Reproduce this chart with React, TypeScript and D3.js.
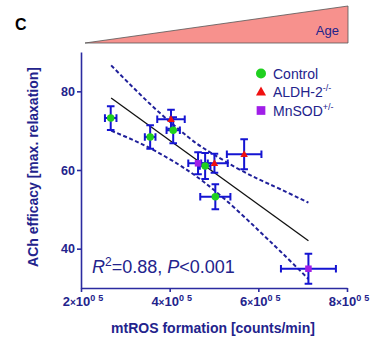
import React, { useRef, useEffect } from 'react'
import * as d3 from 'd3'

// group of each point
const groups = [
  'Control', 'Control', 'ALDH', 'Control', 'MnSOD',
  'Control', 'ALDH', 'ALDH', 'Control', 'MnSOD',
]
// mtROS formation [counts/min]
const mtros = [2.67e5, 3.56e5, 4.03e5, 4.08e5, 4.64e5, 4.8e5, 5.01e5, 5.68e5, 5.03e5, 7.13e5]
const mtrosErr = [0.13e5, 0.12e5, 0.31e5, 0.15e5, 0.22e5, 0.12e5, 0.3e5, 0.39e5, 0.34e5, 0.62e5]
// ACh efficacy [% max. relaxation]
const ach = [73.2, 68.4, 72.9, 70.1, 61.7, 61.0, 61.7, 64.0, 53.2, 34.9]
const achErr = [3.0, 3.0, 2.4, 3.3, 2.8, 3.3, 2.4, 3.8, 3.2, 3.8]

// regression line end points
const fitX = [2.68e5, 7.13e5]
const fitY = [78.3, 42.0]

// 95% confidence bands
const bandX = [2.68e5, 3.2e5, 3.7e5, 4.2e5, 4.6e5, 5.0e5, 5.5e5, 6.0e5, 6.5e5, 7.13e5]
const bandUpper = [86.6, 80.7, 75.3, 70.4, 66.8, 63.9, 60.6, 57.7, 55.1, 51.7]
const bandLower = [70.0, 67.5, 64.7, 61.4, 58.4, 54.9, 50.0, 44.7, 39.3, 32.3]

const xTicks = [2e5, 4e5, 6e5, 8e5]
const yTicks = [40, 60, 80]

const legendItems = [
  { key: 'Control', label: 'Control', sup: '' },
  { key: 'ALDH', label: 'ALDH-2', sup: '-/-' },
  { key: 'MnSOD', label: 'MnSOD', sup: '+/-' },
]

const colors: { [k: string]: string } = {
  Control: '#1fd01f',
  ALDH: '#f01010',
  MnSOD: '#a01ee8',
}

const FONT = 'Liberation Sans, Arial, sans-serif'
const NAVY = '#23238c'
const AXIS = '#2b2ba0'
const ERR = '#1414d2'

const App: React.FC = () => {
  const svgRef = useRef<SVGSVGElement>(null)

  useEffect(() => {
    if (!svgRef.current) return
    const svg = d3.select(svgRef.current)
    svg.selectAll('*').remove()

    const x = d3.scaleLinear().domain([2e5, 8e5]).range([81, 347])
    const y = d3.scaleLinear().domain([30, 90]).range([288, 52])

    // panel letter
    svg.append('text')
      .attr('x', 15).attr('y', 30)
      .style('font-family', FONT).style('font-size', '16px').style('font-weight', 'bold')
      .text('C')

    // age wedge
    const wx0 = x(2e5) + 4
    const wx1 = x(8e5) + 1
    svg.append('polygon')
      .attr('points', `${wx0},43 ${wx1},6 ${wx1},43`)
      .attr('fill', '#f7918d')
      .attr('stroke', '#555')
      .attr('stroke-width', 0.8)
    svg.append('text')
      .attr('x', wx1 - 9).attr('y', 35)
      .attr('text-anchor', 'end')
      .style('font-family', FONT).style('font-size', '13px').style('fill', NAVY)
      .text('Age')

    // axes
    const xAxis = svg.append('g').attr('transform', `translate(0, ${y(30)})`)
      .call(d3.axisBottom(x).tickValues(xTicks).tickSize(4).tickSizeOuter(0))
    const yAxis = svg.append('g').attr('transform', `translate(${x(2e5)}, 0)`)
      .call(d3.axisLeft(y).tickValues(yTicks).tickSize(4).tickSizeOuter(0).tickFormat(d3.format('d')))

    svg.selectAll('.domain').style('stroke', AXIS).style('stroke-width', 1.6)
    svg.selectAll('.tick line').style('stroke', AXIS).style('stroke-width', 1.6)

    yAxis.selectAll('text')
      .attr('x', -6)
      .style('font-family', FONT).style('font-size', '12.5px').style('font-weight', 'bold')
      .style('fill', NAVY)

    xAxis.selectAll<SVGTextElement, number>('text')
      .attr('y', 9)
      .attr('dx', 3)
      .style('font-family', FONT).style('font-size', '13px').style('font-weight', 'bold')
      .style('fill', NAVY)
      .each(function (d) {
        const t = d3.select(this)
        t.text('')
        t.append('tspan').text(`${d / 1e5}`)
        t.append('tspan').style('font-size', '10px').text('×')
        t.append('tspan').text('10')
        t.append('tspan').attr('dy', -5).style('font-size', '9px').style('letter-spacing', '3px').text('05')
      })

    // axis titles
    svg.append('text')
      .attr('x', 213).attr('y', 333)
      .attr('text-anchor', 'middle')
      .style('font-family', FONT).style('font-size', '14px').style('font-weight', 'bold')
      .style('fill', NAVY)
      .text('mtROS formation [counts/min]')
    svg.append('text')
      .attr('transform', `translate(38, 167) rotate(-90)`)
      .attr('text-anchor', 'middle')
      .style('font-family', FONT).style('font-size', '14px').style('font-weight', 'bold')
      .style('fill', NAVY)
      .text('ACh efficacy [max. relaxation]')

    // confidence bands
    const band = (vals: number[]) =>
      d3.line<number>()
        .x((_d, i) => x(bandX[i]))
        .y(d => y(d))
        .curve(d3.curveNatural)(vals)
    ;[bandUpper, bandLower].forEach(vals => {
      svg.append('path')
        .attr('d', band(vals) || '')
        .attr('fill', 'none')
        .attr('stroke', '#20209a')
        .attr('stroke-width', 2)
        .attr('stroke-dasharray', '4,2.5')
    })

    // regression line
    svg.append('line')
      .attr('x1', x(fitX[0])).attr('y1', y(fitY[0]))
      .attr('x2', x(fitX[1])).attr('y2', y(fitY[1]))
      .attr('stroke', '#111')
      .attr('stroke-width', 1.3)

    // error bars
    const cap = 3.8
    const eb = svg.append('g').attr('stroke', ERR).attr('stroke-width', 2).attr('fill', 'none')
    mtros.forEach((mx, i) => {
      const cx = x(mx)
      const cy = y(ach[i])
      const xl = x(mx - mtrosErr[i])
      const xr = x(mx + mtrosErr[i])
      const yt = y(ach[i] + achErr[i])
      const yb = y(ach[i] - achErr[i])
      eb.append('path').attr('d',
        `M${xl},${cy}H${xr}M${xl},${cy - cap}V${cy + cap}M${xr},${cy - cap}V${cy + cap}` +
        `M${cx},${yt}V${yb}M${cx - cap},${yt}H${cx + cap}M${cx - cap},${yb}H${cx + cap}`)
    })

    // markers
    const marker = (g: d3.Selection<SVGGElement, unknown, null, undefined>, key: string, s: number) => {
      if (key === 'Control') {
        g.append('circle').attr('r', s / 2).attr('fill', colors[key])
      } else if (key === 'ALDH') {
        const h = s * 0.9
        g.append('path').attr('d', `M0,${-h * 0.6}L${s / 2},${h * 0.4}L${-s / 2},${h * 0.4}Z`).attr('fill', colors[key])
      } else {
        g.append('rect').attr('x', -s / 2.3).attr('y', -s / 2.3).attr('width', s / 1.15).attr('height', s / 1.15).attr('fill', colors[key])
      }
    }
    mtros.forEach((mx, i) => {
      const g = svg.append('g').attr('transform', `translate(${x(mx)}, ${y(ach[i])})`)
      marker(g, groups[i], 7.5)
    })

    // legend
    legendItems.forEach((item, i) => {
      const ly = 73.5 + i * 18.5
      const g = svg.append('g').attr('transform', `translate(261, ${ly})`)
      marker(g, item.key, 10)
      const t = svg.append('text')
        .attr('x', 273).attr('y', ly + 5)
        .style('font-family', FONT).style('font-size', '14px').style('fill', NAVY)
      t.append('tspan').text(item.label)
      if (item.sup) t.append('tspan').attr('dy', -6).style('font-size', '9px').text(item.sup)
    })

    // statistics
    const st = svg.append('text')
      .attr('x', 92).attr('y', 273)
      .style('font-family', FONT).style('font-size', '18px').style('fill', NAVY)
    st.append('tspan').style('font-style', 'italic').text('R')
    st.append('tspan').attr('dy', -7).style('font-size', '12px').text('2')
    st.append('tspan').attr('dy', 7).text('=0.88, ')
    st.append('tspan').style('font-style', 'italic').text('P')
    st.append('tspan').text('<0.001')
  }, [])

  return (
    <div style={{ position: 'absolute', left: 0, top: 0 }}>
      <svg ref={svgRef} width={373} height={340} style={{ display: 'block', background: '#fff' }} />
    </div>
  )
}

export default App
